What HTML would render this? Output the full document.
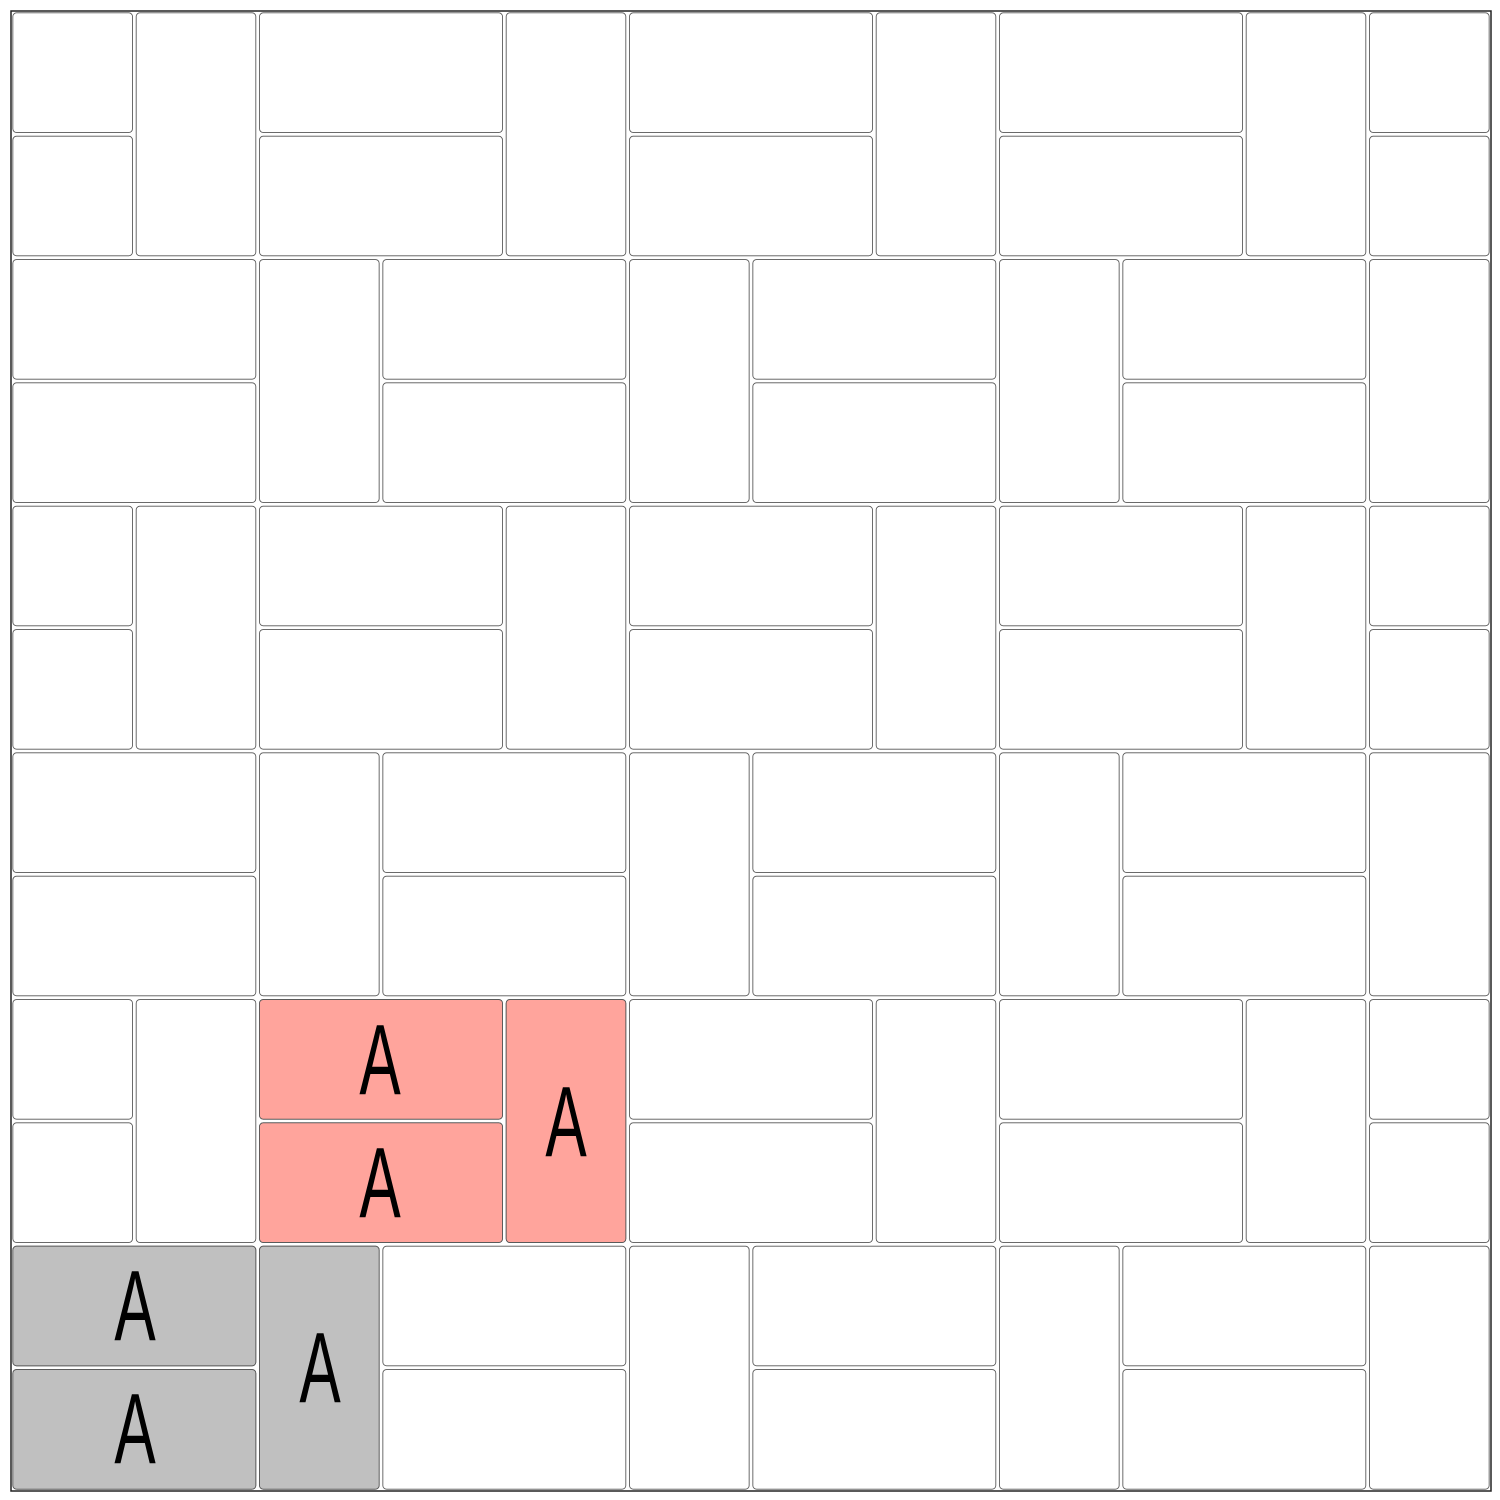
<!DOCTYPE html>
<html><head><meta charset="utf-8"><style>html,body{margin:0;padding:0;background:#fff}svg{display:block}</style></head>
<body>
<svg width="1500" height="1500" viewBox="0 0 1500 1500" xmlns="http://www.w3.org/2000/svg">
<defs>
<clipPath id="c"><rect x="0" y="0" width="1200" height="1200"/></clipPath>
<g id="bandA" fill="#fff" stroke="#555" stroke-width="0.7">
<rect x="1.5" y="1.5" width="97" height="97" rx="3"/>
<rect x="1.5" y="101.5" width="97" height="97" rx="3"/>
<rect x="101.5" y="1.5" width="97" height="197" rx="3"/>
<rect x="201.5" y="1.5" width="197" height="97" rx="3"/>
<rect x="201.5" y="101.5" width="197" height="97" rx="3"/>
<rect x="401.5" y="1.5" width="97" height="197" rx="3"/>
<rect x="501.5" y="1.5" width="197" height="97" rx="3"/>
<rect x="501.5" y="101.5" width="197" height="97" rx="3"/>
<rect x="701.5" y="1.5" width="97" height="197" rx="3"/>
<rect x="801.5" y="1.5" width="197" height="97" rx="3"/>
<rect x="801.5" y="101.5" width="197" height="97" rx="3"/>
<rect x="1001.5" y="1.5" width="97" height="197" rx="3"/>
<rect x="1101.5" y="1.5" width="97" height="97" rx="3"/>
<rect x="1101.5" y="101.5" width="97" height="97" rx="3"/>
</g>
<g id="bandB" fill="#fff" stroke="#555" stroke-width="0.7">
<rect x="1.5" y="1.5" width="197" height="97" rx="3"/>
<rect x="1.5" y="101.5" width="197" height="97" rx="3"/>
<rect x="201.5" y="1.5" width="97" height="197" rx="3"/>
<rect x="301.5" y="1.5" width="197" height="97" rx="3"/>
<rect x="301.5" y="101.5" width="197" height="97" rx="3"/>
<rect x="501.5" y="1.5" width="97" height="197" rx="3"/>
<rect x="601.5" y="1.5" width="197" height="97" rx="3"/>
<rect x="601.5" y="101.5" width="197" height="97" rx="3"/>
<rect x="801.5" y="1.5" width="97" height="197" rx="3"/>
<rect x="901.5" y="1.5" width="197" height="97" rx="3"/>
<rect x="901.5" y="101.5" width="197" height="97" rx="3"/>
<rect x="1101.5" y="1.5" width="97" height="197" rx="3"/>
</g>
</defs>
<g transform="translate(11,11) scale(1.23333)">
<g clip-path="url(#c)">
<use href="#bandA" y="0"/>
<use href="#bandB" y="200"/>
<use href="#bandA" y="400"/>
<use href="#bandB" y="600"/>
<use href="#bandA" y="800"/>
<use href="#bandB" y="1000"/>
<g fill="#ffa49c" stroke="#555" stroke-width="0.7">
<rect x="201.5" y="801.5" width="197" height="97" rx="3"/>
<rect x="201.5" y="901.5" width="197" height="97" rx="3"/>
<rect x="401.5" y="801.5" width="97" height="197" rx="3"/>
</g>
<g fill="#c0c0c0" stroke="#555" stroke-width="0.7">
<rect x="1.5" y="1001.5" width="197" height="97" rx="3"/>
<rect x="1.5" y="1101.5" width="197" height="97" rx="3"/>
<rect x="201.5" y="1001.5" width="97" height="197" rx="3"/>
</g>
</g>
</g>
<rect x="11" y="11" width="1480" height="1480" fill="none" stroke="#222" stroke-width="1.5"/>
<g font-family="Liberation Sans, sans-serif" font-size="100" text-anchor="middle" fill="#000">
<text transform="translate(380,1094) scale(0.62,1)">A</text>
<text transform="translate(380,1217) scale(0.62,1)">A</text>
<text transform="translate(566,1156) scale(0.62,1)">A</text>
<text transform="translate(135,1340) scale(0.62,1)">A</text>
<text transform="translate(135,1463) scale(0.62,1)">A</text>
<text transform="translate(320,1402) scale(0.62,1)">A</text>
</g>
</svg>
</body></html>
